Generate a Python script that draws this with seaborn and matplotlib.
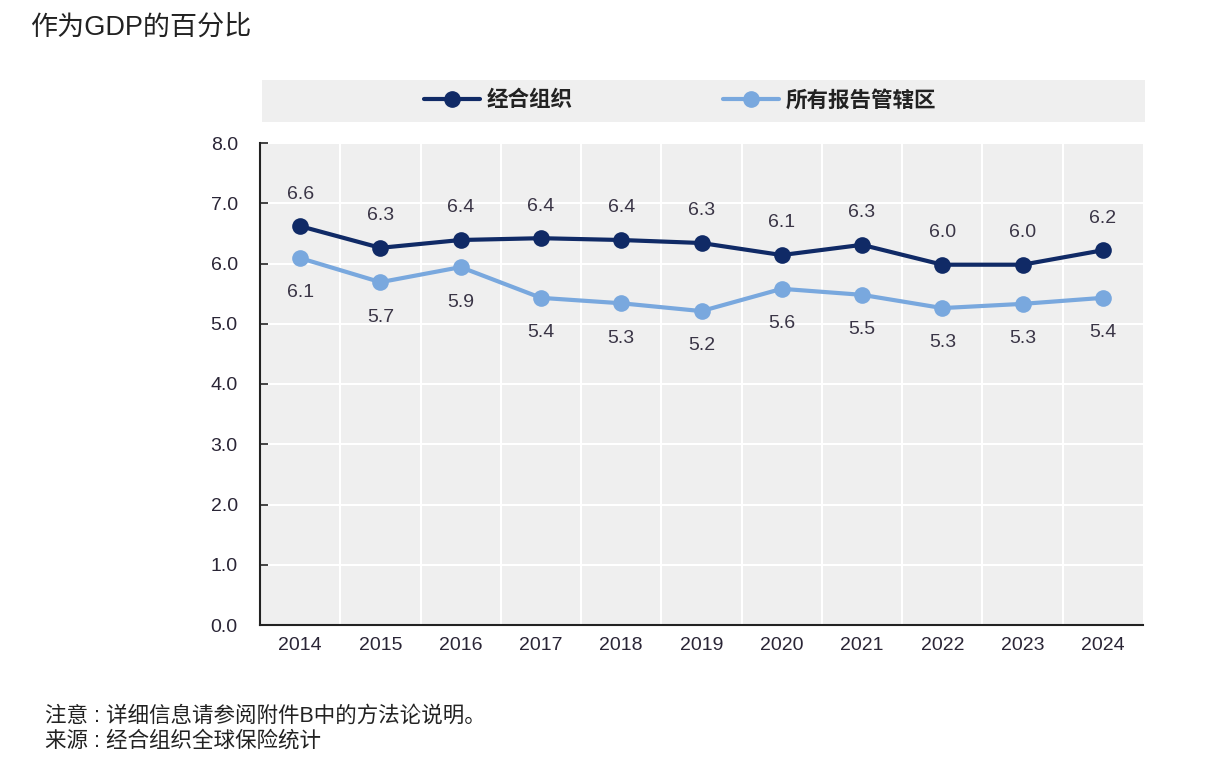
import matplotlib.pyplot as plt
import matplotlib.patches as mpatches
import numpy as np
import pandas as pd
import seaborn as sns

# data
years = ['2014', '2015', '2016', '2017', '2018', '2019', '2020', '2021', '2022', '2023', '2024']
oecd = [6.62, 6.26, 6.39, 6.42, 6.39, 6.34, 6.14, 6.31, 5.98, 5.98, 6.22]
all_jur = [6.09, 5.69, 5.94, 5.43, 5.34, 5.21, 5.58, 5.48, 5.26, 5.33, 5.43]
series_names = ['经合组织', '所有报告管辖区']
y_ticks = [0.0, 1.0, 2.0, 3.0, 4.0, 5.0, 6.0, 7.0, 8.0]

sns.set_theme(style='white')
plt.rcParams['font.family'] = ['Liberation Sans', 'Noto Sans CJK SC', 'DejaVu Sans']

df = pd.DataFrame({
    'pos': list(range(len(years))) * 2,
    'value': oecd + all_jur,
    'series': [series_names[0]] * len(years) + [series_names[1]] * len(years),
})

dark = '#102a66'
light = '#79a8de'
palette = {series_names[0]: dark, series_names[1]: light}
txt = '#2a2536'

fig = plt.figure(figsize=(12.12, 7.66), dpi=100)
ax = fig.add_axes([260 / 1212, 141 / 766, 883 / 1212, 482 / 766])
ax.set_facecolor('#efefef')

sns.lineplot(data=df, x='pos', y='value', hue='series', palette=palette,
             marker='o', markersize=12, markeredgewidth=0, linewidth=3,
             ax=ax, legend=False, zorder=3)

# value labels
for i, v in enumerate(oecd):
    ax.annotate(f'{v:.1f}', (i, v), xytext=(0, 17), textcoords='offset points',
                ha='center', va='bottom', fontsize=14, color='#3a3546')
for i, v in enumerate(all_jur):
    ax.annotate(f'{v:.1f}', (i, v), xytext=(0, -19), textcoords='offset points',
                ha='center', va='top', fontsize=14, color='#3a3546')

ax.set_xlim(-0.5, len(years) - 0.5)
ax.set_ylim(0, 8)
ax.set_yticks(y_ticks)
ax.set_yticklabels([f'{t:.1f}' for t in y_ticks], fontsize=14, color=txt)
ax.set_xticks(range(len(years)))
ax.set_xticklabels(years, fontsize=14, color=txt)
ax.set_xticks(np.arange(0.5, len(years) - 0.5, 1), minor=True)
ax.tick_params(axis='x', which='major', length=0, pad=9)
ax.tick_params(axis='x', which='minor', direction='in', length=6, width=1.2, color='#222222')
ax.tick_params(axis='y', which='major', direction='in', length=6, width=1.2,
               color='#222222', left=True, pad=16)
ax.set_xlabel('')
ax.set_ylabel('')

ax.grid(False)
ax.yaxis.grid(True, color='white', linewidth=1.5)
ax.xaxis.grid(True, which='minor', color='white', linewidth=1.5)
ax.set_axisbelow(True)

for s in ['top', 'right']:
    ax.spines[s].set_visible(False)
for s in ['left', 'bottom']:
    ax.spines[s].set_color('#222222')
    ax.spines[s].set_linewidth(1.5)

# legend band
band = mpatches.Rectangle((262 / 1212, (766 - 122) / 766), 883 / 1212, 42 / 766,
                          transform=fig.transFigure, facecolor='#efefef',
                          edgecolor='none', zorder=0)
fig.patches.append(band)
handles = [plt.Line2D([], [], color=dark, marker='o', markersize=11, linewidth=3),
           plt.Line2D([], [], color=light, marker='o', markersize=11, linewidth=3)]
fig.legend(handles, series_names, loc='center', ncol=2,
           bbox_to_anchor=(680 / 1212, (766 - 101) / 766), frameon=False,
           prop={'size': 15.5, 'weight': 'bold'}, handlelength=2.6,
           columnspacing=7, handletextpad=0.3, labelcolor='#222222')

fig.text(30 / 1212, 1 - 28 / 766, '作为GDP的百分比', fontsize=19.5, va='center',
         ha='left', color='#222222')
fig.text(45 / 1212, 1 - 716 / 766, '注意 : 详细信息请参阅附件B中的方法论说明。', fontsize=15.5,
         va='center', ha='left', color='#222222')
fig.text(45 / 1212, 1 - 741 / 766, '来源 : 经合组织全球保险统计', fontsize=15.5,
         va='center', ha='left', color='#222222')

fig.savefig('out.png', dpi=100, facecolor='white')
